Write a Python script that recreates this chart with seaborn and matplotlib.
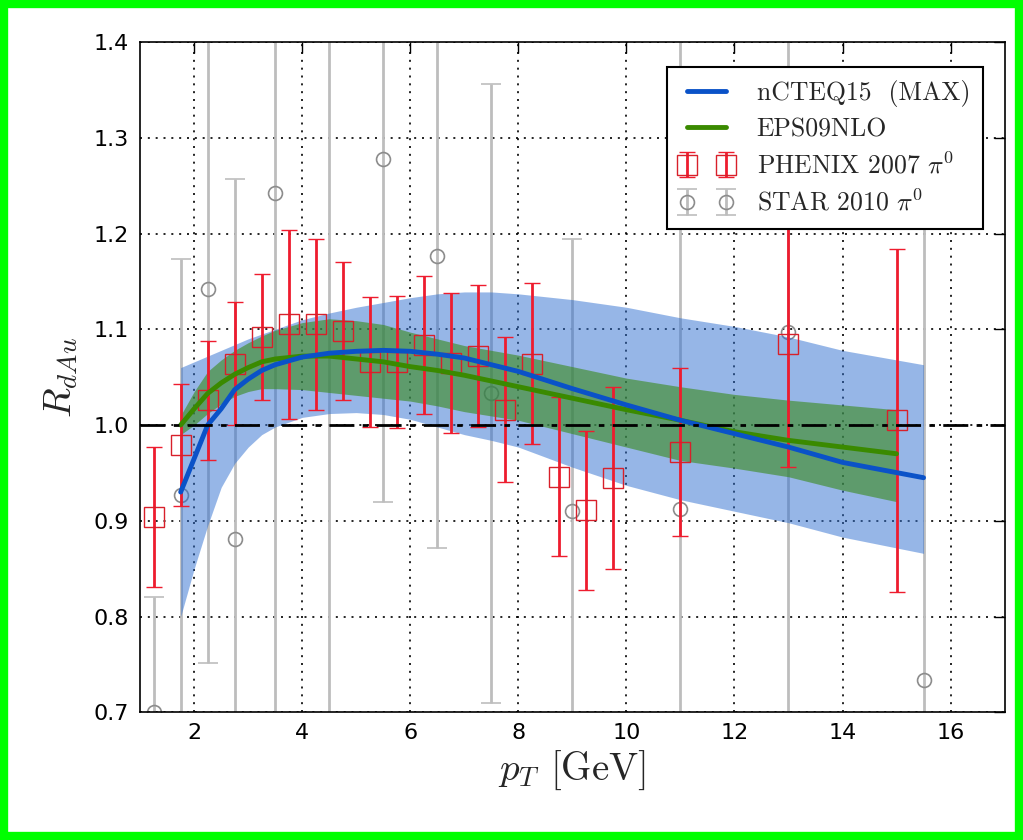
import numpy as np
import pandas as pd
import seaborn as sns
import matplotlib.pyplot as plt
from matplotlib.patches import Rectangle

# nCTEQ15 (MAX) central curve and band
ncteq_x = [1.75, 2.0, 2.25, 2.5, 2.75, 3.0, 3.25, 3.5, 4.0, 4.5, 5.0, 5.5, 6.0, 6.5,
           7.0, 7.5, 8.0, 9.0, 10.0, 11.0, 12.0, 13.0, 14.0, 15.5]
ncteq_y = [0.93, 0.965, 1.0, 1.017, 1.037, 1.048, 1.057, 1.063, 1.071, 1.075, 1.077, 1.078,
           1.077, 1.074, 1.07, 1.063, 1.056, 1.038, 1.021, 1.005, 0.991, 0.977, 0.961, 0.945]
ncteq_hi = [1.06, 1.066, 1.072, 1.078, 1.084, 1.09, 1.095, 1.1, 1.11, 1.117, 1.123, 1.128,
            1.133, 1.137, 1.139, 1.139, 1.137, 1.131, 1.123, 1.112, 1.103, 1.092, 1.078, 1.063]
ncteq_lo = [0.80, 0.85, 0.895, 0.935, 0.96, 0.977, 0.99, 0.998, 1.008, 1.012, 1.013, 1.011,
            1.006, 0.998, 0.99, 0.984, 0.977, 0.956, 0.937, 0.922, 0.91, 0.898, 0.883, 0.866]

# EPS09NLO central curve and band
eps_x = [1.75, 2.0, 2.25, 2.5, 2.75, 3.0, 3.25, 3.5, 4.0, 4.5, 5.0, 5.5, 6.0, 6.5,
         7.0, 8.0, 9.0, 10.0, 11.0, 12.0, 13.0, 14.0, 15.0]
eps_y = [1.0, 1.017, 1.033, 1.044, 1.053, 1.06, 1.066, 1.069, 1.072, 1.072, 1.069, 1.066,
         1.061, 1.057, 1.052, 1.04, 1.028, 1.016, 1.005, 0.993, 0.984, 0.977, 0.97]
eps_hi = [1.01, 1.035, 1.056, 1.068, 1.078, 1.086, 1.093, 1.099, 1.107, 1.111, 1.109, 1.105,
          1.097, 1.09, 1.083, 1.073, 1.061, 1.049, 1.04, 1.032, 1.026, 1.021, 1.016]
eps_lo = [0.99, 1.0, 1.012, 1.022, 1.03, 1.035, 1.038, 1.038, 1.037, 1.034, 1.031, 1.028,
          1.025, 1.02, 1.014, 1.005, 0.991, 0.977, 0.963, 0.955, 0.946, 0.932, 0.92]

# PHENIX 2007 pi0
phenix_x = [1.25, 1.75, 2.25, 2.75, 3.25, 3.75, 4.25, 4.75, 5.25, 5.75, 6.25, 6.75, 7.25,
            7.75, 8.25, 8.75, 9.25, 9.75, 11.0, 13.0, 15.0]
phenix_y = [0.904, 0.979, 1.026, 1.064, 1.092, 1.105, 1.105, 1.098, 1.066, 1.066, 1.084,
            1.065, 1.072, 1.016, 1.064, 0.946, 0.911, 0.945, 0.972, 1.085, 1.005]
phenix_err = [0.073, 0.064, 0.062, 0.064, 0.066, 0.099, 0.089, 0.072, 0.068, 0.069, 0.072,
              0.073, 0.074, 0.076, 0.084, 0.083, 0.083, 0.095, 0.088, 0.129, 0.179]

# STAR 2010 pi0
star_x = [1.25, 1.75, 2.25, 2.75, 3.5, 4.5, 5.5, 6.5, 7.5, 9.0, 11.0, 13.0, 15.5]
star_y = [0.70, 0.927, 1.142, 0.881, 1.242, 1.47, 1.278, 1.177, 1.033, 0.91, 0.912, 1.097, 0.734]
star_err = [0.12, 0.246, 0.39, 0.376, 0.6, 0.85, 0.358, 0.305, 0.323, 0.284, 0.6, 0.45, 0.6]

sns.set_style("white")
plt.rcParams['mathtext.fontset'] = 'cm'
plt.rcParams['font.family'] = ['DejaVu Sans']

fig = plt.figure(figsize=(10.23, 8.40), dpi=100)
ax = fig.add_axes([0.137, 0.152, 0.845, 0.798])

ax.errorbar(star_x, star_y, yerr=star_err, fmt='o', mfc='none', mec='#8c8c8c', ms=10,
            mew=1.2, ecolor='#bdbdbd', elinewidth=2, capsize=7, capthick=1,
            label=r'STAR 2010 $\pi^0$', zorder=1)

ax.fill_between(ncteq_x, ncteq_lo, ncteq_hi, color='#2f6fd0', alpha=0.5, lw=0, zorder=2)
ax.fill_between(eps_x, eps_lo, eps_hi, color='#3a8a1a', alpha=0.6, lw=0, zorder=2)

ax.errorbar(phenix_x, phenix_y, yerr=phenix_err, fmt='s', mfc='none', mec='#d8202a', ms=14,
            mew=1.0, ecolor='#ee1c2e', elinewidth=2, capsize=6, capthick=2,
            label=r'PHENIX 2007 $\pi^0$', zorder=3)

ncteq = pd.DataFrame({'pt': ncteq_x, 'R': ncteq_y})
eps = pd.DataFrame({'pt': eps_x, 'R': eps_y})
sns.lineplot(data=ncteq, x='pt', y='R', color='#0a52c8', lw=3.5, ax=ax,
             label='nCTEQ15  (MAX)', zorder=5)
sns.lineplot(data=eps, x='pt', y='R', color='#3a8a00', lw=3.5, ax=ax,
             label='EPS09NLO', zorder=4)

ax.axhline(1.0, color='black', lw=2, linestyle=(0, (9, 3, 2, 3)), zorder=6)

ax.set_xlim(1, 17)
ax.set_ylim(0.7, 1.4)
ax.set_xticks(np.arange(2, 17, 2))
ax.set_yticks(np.arange(0.7, 1.41, 0.1))
ax.grid(True, color='black', linestyle=(0, (1.2, 3.5)), linewidth=1.2)
ax.tick_params(direction='in', length=8, width=1, labelsize=16, top=True, right=True,
               pad=8, colors='black')
for s in ax.spines.values():
    s.set_color('black')
    s.set_linewidth(1.2)

ax.set_xlabel(r'$p_T$ [GeV]', fontsize=28, family='cmr10', labelpad=4)
ax.set_ylabel(r'$R_{dAu}$', fontsize=28, labelpad=10)

h, l = ax.get_legend_handles_labels()
order = [l.index('nCTEQ15  (MAX)'), l.index('EPS09NLO'),
         l.index(r'PHENIX 2007 $\pi^0$'), l.index(r'STAR 2010 $\pi^0$')]
leg = ax.legend([h[i] for i in order], [l[i] for i in order], loc='upper right',
                prop={'family': 'cmr10', 'size': 18.5}, numpoints=2, fancybox=False,
                framealpha=1, edgecolor='black', handlelength=2.1,
                bbox_to_anchor=(0.99, 0.982), borderpad=0.5, labelspacing=0.42,
                handletextpad=0.9)
leg.get_frame().set_linewidth(1.5)
leg.set_zorder(10)

fig.patches.append(Rectangle((0.004, 0.005), 0.992, 0.99, transform=fig.transFigure,
                             fill=False, edgecolor='#00ff00', lw=6))

fig.savefig('out.png', dpi=100)
